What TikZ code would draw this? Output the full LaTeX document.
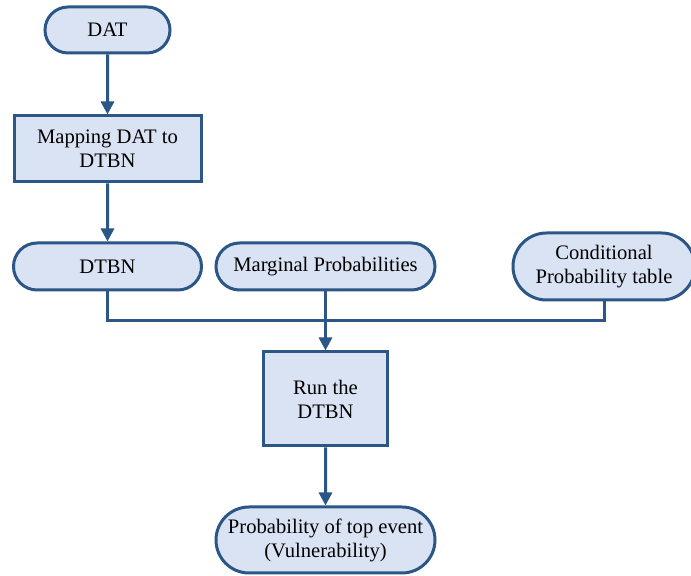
\documentclass[tikz,border=0pt]{standalone}
\usepackage{fontspec}
\setmainfont{Liberation Serif}
\usepackage{tikz}
\usetikzlibrary{shapes.misc,arrows.meta,positioning,calc}

\definecolor{boxfill}{RGB}{218,227,243}
\definecolor{boxline}{RGB}{43,86,133}

\tikzset{
  base/.style={draw=boxline,fill=boxfill,line width=1.5pt,align=center,
    font=\rmfamily\fontsize{10.3}{12}\selectfont,inner sep=0pt},
  term/.style={base,rounded rectangle},
  proc/.style={base,rectangle},
  flow/.style={draw=boxline,line width=1.5pt},
  arr/.style={flow,-{Triangle[width=6.5pt,length=6.5pt]}}
}

\begin{document}
\begin{tikzpicture}[x=0.5pt,y=-0.5pt]
      \useasboundingbox (0,0) rectangle (691,576);
      \node[term,minimum width=62.5pt,minimum height=23pt] (dat) at (107.5,30) {DAT};
      \node[proc,minimum width=93.5pt,minimum height=33pt] (map) at (107.5,149) {Mapping DAT to\\DTBN};
      \node[term,minimum width=94pt,minimum height=23.5pt] (dtbn) at (107.5,266.5) {DTBN};
      \node[term,minimum width=109.5pt,minimum height=23.5pt] (marg) at (325.5,266.5) {Marginal Probabilities};
      \node[term,minimum width=91pt,minimum height=33.5pt] (cpt) at (604,266.5) {Conditional\\Probability table};
      \node[proc,minimum width=62pt,minimum height=47pt] (run) at (325.5,399) {Run the\\DTBN};
      \node[term,minimum width=109.5pt,minimum height=33pt] (top) at (325.5,540) {Probability of top event\\(Vulnerability)};
      \coordinate (jn) at (325.5,321);
      % connectors
      \draw[arr] (dat) -- (map);
      \draw[arr] (map) -- (dtbn);
      \draw[flow] (dtbn.south) |- (jn);
      \draw[flow] (cpt.south) |- (jn);
      \draw[arr] (marg) -- (run);
      \draw[arr] (run) -- (top);
\end{tikzpicture}
\end{document}
